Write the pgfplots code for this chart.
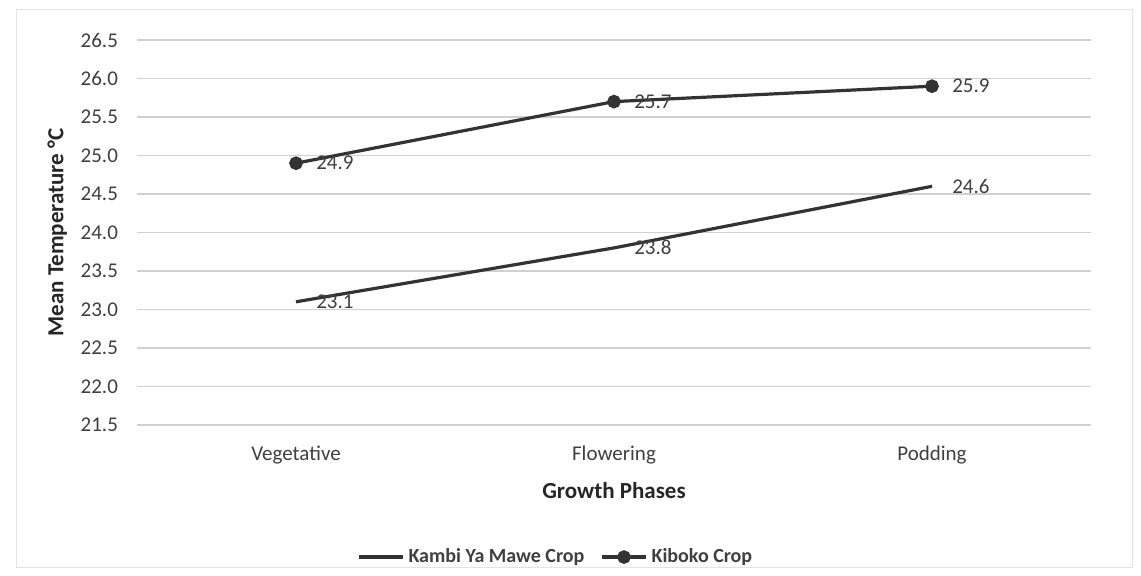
\documentclass[border=0pt]{standalone}
\usepackage{pgfplots}
\pgfplotsset{compat=1.18}
\usepackage{fontspec}
\setmainfont{Carlito}
\definecolor{txt}{HTML}{404040}
\definecolor{grd}{HTML}{D0D0D0}
\definecolor{ln}{HTML}{333333}
\begin{document}
\begin{tikzpicture}
\fill[white] (0,0) rectangle (570.5pt,287.5pt);
\useasboundingbox (0,0) rectangle (570.5pt,287.5pt);
\draw[grd!60] (8pt,4pt) rectangle (566pt,283pt);
\begin{axis}[
  at={(68.5pt,75pt)}, anchor=south west,
  scale only axis, width=477pt, height=192.5pt,
  xmin=-0.5, xmax=2.5, ymin=21.5, ymax=26.5,
  xtick={0,1,2}, xticklabels={Vegetative,Flowering,Podding},
  ytick={21.5,22,...,26.5},
  yticklabel style={/pgf/number format/fixed,/pgf/number format/fixed zerofill,/pgf/number format/precision=1},
  /pgf/number format/assume math mode=true,
  ymajorgrids, major grid style={grd, line width=0.8pt},
  axis line style={draw=none}, major tick length=0pt,
  tick label style={font=\fontsize{10.5}{12}\selectfont, text=txt},
  yticklabel style={xshift=-6pt},
  xticklabel style={yshift=-7pt},
  xlabel={\textbf{Growth Phases}}, ylabel={\textbf{Mean Temperature °C}},
  label style={font=\fontsize{11.5}{13}\selectfont, text=black!85},
  xlabel style={yshift=-2pt},
  ylabel style={yshift=0pt},
  legend style={at={(0.44,-0.343)}, anchor=center, legend columns=2, draw=none, fill=none,
    font=\fontsize{10}{12}\selectfont\bfseries, text=txt,
    /tikz/every even column/.append style={column sep=6pt}},
  legend image code/.code={\draw[#1] (0pt,0pt) -- (22pt,0pt); \draw[#1, only marks] plot coordinates {(11pt,0pt)};},
  nodes near coords, point meta=explicit symbolic,
  every node near coord/.append style={font=\fontsize{10.5}{12}\selectfont, text=txt, anchor=west, xshift=6pt},
]
\addplot[color=ln, line width=1.6pt, mark=none] coordinates {(0,23.1)[23.1] (1,23.8)[23.8] (2,24.6)[24.6]};
\addlegendentry{Kambi Ya Mawe Crop}
\addplot[color=ln, line width=1.6pt, mark=*, mark size=2.6pt, mark options={fill=ln}] coordinates {(0,24.9)[24.9] (1,25.7)[25.7] (2,25.9)[25.9]};
\addlegendentry{Kiboko Crop}
\end{axis}
\end{tikzpicture}
\end{document}
